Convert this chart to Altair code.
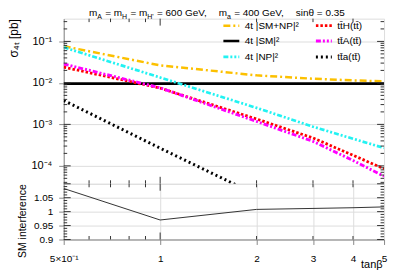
import math
import altair as alt
import pandas as pd

# ---------------- data ----------------
tanb = [0.5, 1, 2, 3, 4, 5]
sig_sm_np = [0.0766, 0.0264, 0.0152, 0.0126, 0.0115, 0.0109]
sig_sm = [0.0096, 0.0096, 0.0096, 0.0096, 0.0096, 0.0096]
sig_np = [0.072, 0.0135, 0.0025, 0.00088, 0.00045, 0.00027]
sig_tth = [0.0240, 0.0075, 0.00135, 0.00047, 0.00018, 0.000085]
sig_ttA = [0.0285, 0.0076, 0.00118, 0.00039, 0.000135, 0.000056]
sig_tta = [0.00377, 0.000267, 0.00002, 0.0000042, 0.0000014, 0.00000057]
sm_interf = [1.083, 0.970, 1.008, 1.0115, 1.014, 1.017]

# legend fills column by column
series_names = ["4t  |SM+NP|²", "4t  |SM|²", "4t  |NP|²",
                "tt\u0304H(tt\u0304)", "tt\u0304A(tt\u0304)", "tt\u0304a(tt\u0304)"]
series_values = [sig_sm_np, sig_sm, sig_np, sig_tth, sig_ttA, sig_tta]
series_colors = ["#fcc000", "#000000", "#22f2f2", "#ff0000", "#ff00ff", "#000000"]
series_dash = [[7, 3, 2, 3], [1, 0], [5, 2, 2, 2, 2, 2], [2.5, 2], [5, 2, 2, 2, 2, 2], [2, 3]]
series_width = [2.5, 3, 2.5, 2.5, 2.5, 2]

top_y_ticks = [1e-4, 1e-3, 1e-2, 1e-1]
top_y_labels = ["10⁻⁴", "10⁻³", "10⁻²", "10⁻¹"]
x_ticks = [0.5, 1, 2, 3, 4, 5]
x_labels = ["5×10⁻¹", "1", "2", "3", "4", "5"]
bot_y_ticks = [0.9, 0.95, 1.0, 1.05]

# ---------------- layout ----------------
W, HT, HB = 322, 166, 56
FONT = "Liberation Sans, Arial, Helvetica, sans-serif"
LMAJ, LMIN = 7, 3.5

rows = []
for name, vals in zip(series_names, series_values):
    for xv, yv in zip(tanb, vals):
        rows.append({"tanb": xv, "sigma": yv, "series": name})
df_top = pd.DataFrame(rows)
df_bot = pd.DataFrame({"tanb": tanb, "ratio": sm_interf})

xs = alt.Scale(type="log", domain=[0.5, 5], nice=False)
ys_top = alt.Scale(type="log", domain=[3.7e-5, 0.354], nice=False)
ys_bot = alt.Scale(domain=[0.9, 1.1], nice=False, zero=False)


def chain_expr(ticks, labels):
    # pick the label of the nearest tick (geometric midpoints as thresholds)
    expr = f"'{labels[-1]}'"
    for i in range(len(ticks) - 2, -1, -1):
        thr = math.sqrt(ticks[i] * ticks[i + 1])
        expr = f"datum.value < {thr:.6g} ? '{labels[i]}' : " + expr
    return expr


top_y_expr = chain_expr(top_y_ticks, top_y_labels)
x_expr = chain_expr(x_ticks, x_labels)

top_x_axis = None
top_y_axis = alt.Axis(values=top_y_ticks, labelExpr=top_y_expr, title="σ₄ₜ [pb]",
                      titleX=-46, titleY=0, titleAlign="right", titleBaseline="alphabetic",
                      titleFontSize=12, titleFontWeight="normal",
                      labelPadding=7, labelFontSize=11)
bot_x_axis = alt.Axis(values=x_ticks, labelExpr=x_expr, labelOverlap=False, labelFlush=False,
                      labelPadding=9, title="tanβ", titleX=W - 2, titleY=28, titleAlign="right",
                      titleBaseline="alphabetic", titleFontSize=11,
                      titleFontWeight="normal", labelFontSize=10)
bot_y_axis = alt.Axis(values=bot_y_ticks, format="~g", title="SM interference",
                      titleX=-38.5, titleY=0, titleAlign="right", titleBaseline="alphabetic",
                      titleFontSize=10.5, titleFontWeight="normal",
                      labelPadding=6, labelFontSize=10)

legend = alt.Legend(orient="none", legendX=159, legendY=-3, columns=2, title=None,
                    symbolType="stroke", symbolSize=256, labelFontSize=10,
                    labelOffset=4, columnPadding=7, rowPadding=-1, labelLimit=200)

lines = alt.Chart(df_top).mark_line(clip=True).encode(
    x=alt.X("tanb:Q", scale=xs, axis=top_x_axis),
    y=alt.Y("sigma:Q", scale=ys_top, axis=top_y_axis),
    color=alt.Color("series:N", scale=alt.Scale(domain=series_names, range=series_colors), legend=legend),
    strokeDash=alt.StrokeDash("series:N", scale=alt.Scale(domain=series_names, range=series_dash), legend=legend),
    strokeWidth=alt.StrokeWidth("series:N", scale=alt.Scale(domain=series_names, range=series_width), legend=legend),
)


# ---- tick marks drawn inside the frame (ROOT style) ----
def xticks(vals, length, height, xaxis):
    d = pd.DataFrame({"v": vals})
    bottom = alt.Chart(d).mark_rule(color="#333", strokeWidth=1).encode(
        x=alt.X("v:Q", scale=xs, axis=xaxis), y=alt.value(height), y2=alt.value(height - length))
    top = alt.Chart(d).mark_rule(color="#333", strokeWidth=1).encode(
        x=alt.X("v:Q", scale=xs, axis=xaxis), y=alt.value(0), y2=alt.value(length))
    return [bottom, top]


def yticks(vals, length, yscale, yaxis):
    d = pd.DataFrame({"v": vals})
    left = alt.Chart(d).mark_rule(color="#333", strokeWidth=1).encode(
        y=alt.Y("v:Q", scale=yscale, axis=yaxis), x=alt.value(0), x2=alt.value(length))
    right = alt.Chart(d).mark_rule(color="#333", strokeWidth=1).encode(
        y=alt.Y("v:Q", scale=yscale, axis=yaxis), x=alt.value(W), x2=alt.value(W - length))
    return [left, right]


x_minor = [0.6, 0.7, 0.8, 0.9, 2, 3, 4]
x_major = [1]
top_minor = [k * 10.0 ** e for e in range(-5, 0) for k in range(2, 10) if 3.7e-5 < k * 10.0 ** e < 0.354]
bot_major = [0.9, 0.95, 1.0, 1.05, 1.1]
bot_minor = [round(0.9 + 0.01 * i, 2) for i in range(21) if i % 5 != 0]

# ---- title with subscripts, laid out with Helvetica-like advance widths ----
ADV = {"m": 833, "A": 667, "H": 722, "'": 191, "a": 556, " ": 278, "=": 584, "G": 778,
       "e": 556, "V": 667, ",": 278, "s": 500, "i": 222, "n": 556, "θ": 556, ".": 278}
for dgt in "0123456789":
    ADV[dgt] = 556


def adv(s, size):
    return sum(ADV.get(c, 556) for c in s) * size / 1000.0


TSIZE, SSIZE = 10, 7
title_pieces = [("m", False), ("A", True), (" = m", False), ("H", True), (" = m", False),
                ("H'", True), (" = 600 GeV,", False), ("    m", False), ("a", True),
                (" = 400 GeV,", False), ("    sinθ = 0.35", False)]
title_layers = []
cx = 25.3
for txt, sub in title_pieces:
    size = SSIZE if sub else TSIZE
    lead = len(txt) - len(txt.lstrip(" "))
    title_layers.append(
        alt.Chart(pd.DataFrame({"t": [txt.strip()]})).mark_text(
            align="left", baseline="alphabetic", fontSize=size, color="black").encode(
            text="t:N", x=alt.value(cx + lead * ADV[" "] * size / 1000.0),
            y=alt.value(0.5 if sub else -3))
    )
    cx += adv(txt, size) + (0.6 if sub else 0)

top_layers = [lines] + xticks(x_minor, LMIN, HT, top_x_axis) + xticks(x_major, LMAJ, HT, top_x_axis) \
    + yticks(top_minor, LMIN, ys_top, top_y_axis) + yticks(top_y_ticks, LMAJ, ys_top, top_y_axis) + title_layers
top = alt.layer(*top_layers).properties(width=W, height=HT)

ratio = alt.Chart(df_bot).mark_line(color="#333", strokeWidth=1, clip=True).encode(
    x=alt.X("tanb:Q", scale=xs, axis=bot_x_axis),
    y=alt.Y("ratio:Q", scale=ys_bot, axis=bot_y_axis),
)
bot_layers = [ratio] + xticks(x_minor, LMIN, HB, bot_x_axis) + xticks(x_major, LMAJ, HB, bot_x_axis) \
    + yticks(bot_minor, LMIN, ys_bot, bot_y_axis) + yticks(bot_major, LMAJ, ys_bot, bot_y_axis)
bot = alt.layer(*bot_layers).properties(width=W, height=HB)

# autosize "none": the drawing starts at the padding offset; the view height
# signal of a vconcat is 0 here, so the bottom padding holds both panels
chart = alt.vconcat(top, bot, spacing=0, bounds="flush").properties(
    autosize=alt.AutoSizeParams(type="none"),
    padding={"left": 56, "top": 10, "right": 10, "bottom": HT + HB + 34},
).configure_view(stroke="black", strokeWidth=1).configure_axis(
    domain=False, ticks=False, grid=False, labelFont=FONT, titleFont=FONT,
    labelColor="black", titleColor="black"
).configure_legend(labelFont=FONT, labelColor="black").configure_text(font=FONT).configure(
    background="white")

chart.save("out.html", embed_options={"renderer": "svg", "actions": False})
